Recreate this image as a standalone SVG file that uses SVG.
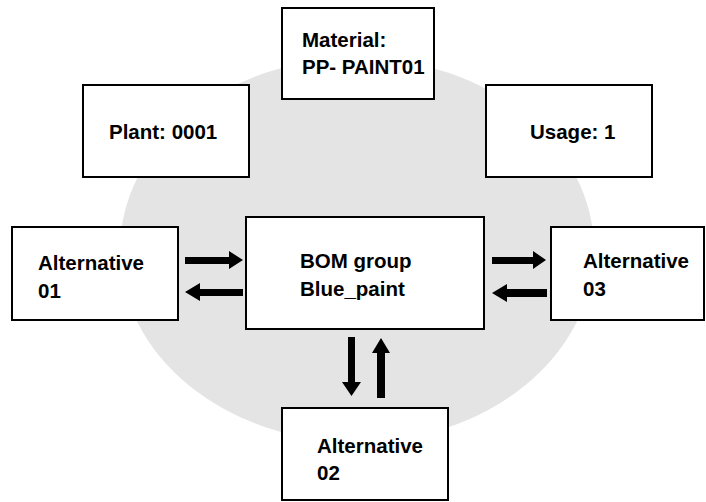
<svg xmlns="http://www.w3.org/2000/svg" width="706" height="502" viewBox="0 0 706 502">
<style>
.box{fill:#fff;stroke:#000;stroke-width:2}
.t{font-family:"Liberation Sans",Arial,sans-serif;font-weight:bold;font-size:20.5px;fill:#000}
.arr{fill:#000}
</style>
<rect width="706" height="502" fill="#fff"/>
<ellipse cx="357" cy="250" rx="237" ry="192" fill="#e4e4e4"/>
<g id="material"><rect class="box" x="282" y="8" width="152" height="91"/><text class="t" x="302" y="47">Material:</text><text class="t" x="302" y="74">PP- PAINT01</text></g>
<g id="plant"><rect class="box" x="83" y="85" width="166" height="92"/><text class="t" x="109" y="139">Plant: 0001</text></g>
<g id="usage"><rect class="box" x="486" y="85" width="166" height="92"/><text class="t" x="530" y="139">Usage: 1</text></g>
<g id="bom"><rect class="box" x="246" y="217" width="238" height="112"/><text class="t" x="300" y="268">BOM group</text><text class="t" x="300" y="296">Blue_paint</text></g>
<g id="alt01"><rect class="box" x="12" y="227" width="166" height="93"/><text class="t" x="38" y="270">Alternative</text><text class="t" x="38" y="298">01</text></g>
<g id="alt03"><rect class="box" x="551" y="227" width="153" height="93"/><text class="t" x="583" y="268">Alternative</text><text class="t" x="583" y="296">03</text></g>
<g id="alt02"><rect class="box" x="282" y="408" width="166" height="92"/><text class="t" x="317" y="453">Alternative</text><text class="t" x="317" y="480">02</text></g>
<g id="connectors" class="arr">
<polygon points="185,257 229,257 229,251 243,260 229,269 229,264 185,264"/>
<polygon points="243,289 200,289 200,283 185,292 200,301 200,296 243,296"/>
<polygon points="492,257 533,257 533,251 546,260 533,269 533,264 492,264"/>
<polygon points="547,289 507,289 507,284 492,293 507,302 507,297 547,297"/>
<polygon points="348,337 355,337 355,382 361,382 351.5,396 342,382 348,382"/>
<polygon points="377,398 385,398 385,353 390,353 381,338 372,353 377,353"/>
</g>
</svg>
